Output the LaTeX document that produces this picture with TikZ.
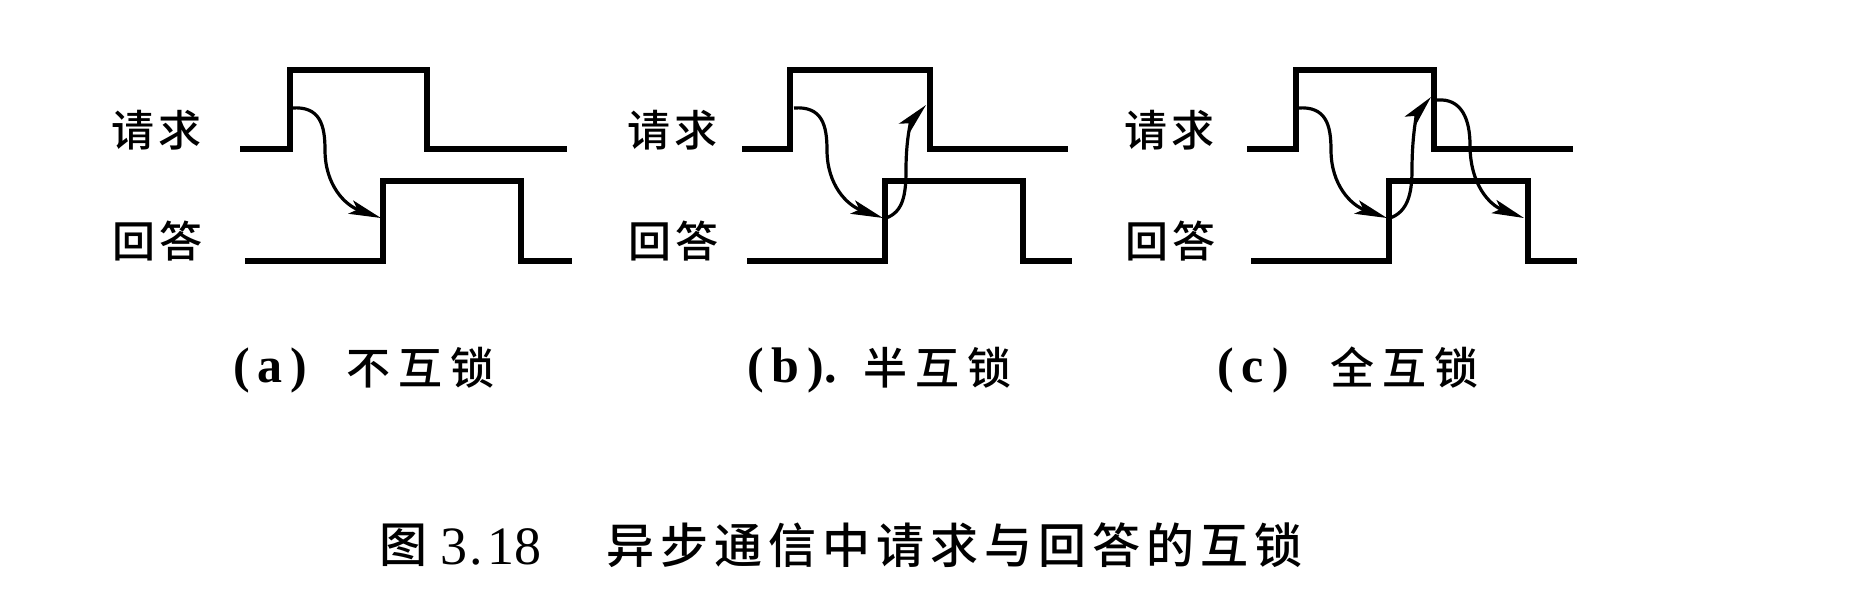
\documentclass[tikz,border=0pt]{standalone}
\usepackage{fontspec}
\setmainfont{Liberation Serif}
\newfontfamily\cjk{Noto Sans CJK SC Medium}
\usetikzlibrary{arrows.meta}
\begin{document}
\begin{tikzpicture}[x=1pt,y=-1pt,
  sig/.style={line width=5.5pt, line join=miter},
  arr/.style={line width=3.2pt, -{Stealth[length=32pt,width=14pt,inset=7pt]}},
  lab/.style={font=\cjk\fontsize{43pt}{43pt}\selectfont, inner sep=0pt},
  subcap/.style={font=\cjk\fontsize{44pt}{44pt}\selectfont, inner sep=0pt, anchor=west},
  subletter/.style={font=\bfseries\fontsize{50pt}{50pt}\selectfont, inner sep=0pt, anchor=west},
  figcap/.style={font=\cjk\fontsize{48pt}{48pt}\selectfont, inner sep=0pt, anchor=west},
  fignum/.style={font=\fontsize{54pt}{54pt}\selectfont, inner sep=0pt, anchor=west}]
\useasboundingbox (0,0) rectangle (1852,614);

% ---------- panel (a)
\node[lab] (reqa) at (156,130) {请\kern4pt求};
\node[lab] (repa) at (157,241) {回\kern4pt答};
\draw[sig] (240,149) -- (290,149) -- (290,70) -- (427,70) -- (427,149) -- (567,149);
\draw[sig] (245,261) -- (383,261) -- (383,181) -- (521,181) -- (521,261) -- (572,261);
\coordinate (a1s) at (292,108);
\coordinate (a1e) at (381,218);
\draw[arr] (a1s) .. controls (320,106) and (325,125) .. (325,150)
                 .. controls (325,185) and (345,205) .. (a1e);

% ---------- panel (b)
\node[lab] (reqb) at (672,130) {请\kern4pt求};
\node[lab] (repb) at (673,241) {回\kern4pt答};
\draw[sig] (742,149) -- (790,149) -- (790,70) -- (930,70) -- (930,149) -- (1068,149);
\draw[sig] (747,261) -- (885,261) -- (885,181) -- (1023,181) -- (1023,261) -- (1072,261);
\coordinate (b1s) at (794,108);
\coordinate (b1e) at (883,218);
\coordinate (b2s) at (886,218);
\coordinate (b2e) at (926,105);
\draw[arr] (b1s) .. controls (822,106) and (827,125) .. (827,150)
                 .. controls (827,185) and (847,205) .. (b1e);
\draw[arr] (b2s) .. controls (903,212) and (906,195) .. (906,170)
                 .. controls (906,135) and (912,120) .. (b2e);

% ---------- panel (c)
\node[lab] (reqc) at (1169,130) {请\kern4pt求};
\node[lab] (repc) at (1170,241) {回\kern4pt答};
\draw[sig] (1247,149) -- (1296,149) -- (1296,70) -- (1434,70) -- (1434,149) -- (1573,149);
\draw[sig] (1251,261) -- (1389,261) -- (1389,181) -- (1528,181) -- (1528,261) -- (1577,261);
\coordinate (c1s) at (1298,108);
\coordinate (c1e) at (1387,218);
\coordinate (c2s) at (1390,218);
\coordinate (c2e) at (1431,97);
\coordinate (c3s) at (1437,100);
\coordinate (c3e) at (1524,218);
\draw[arr] (c1s) .. controls (1326,106) and (1331,125) .. (1331,150)
                 .. controls (1331,185) and (1351,205) .. (c1e);
\draw[arr] (c2s) .. controls (1407,212) and (1412,195) .. (1412,170)
                 .. controls (1412,130) and (1418,112) .. (c2e);
\draw[arr] (c3s) .. controls (1462,98) and (1470,120) .. (1470,145)
                 .. controls (1470,185) and (1490,205) .. (c3e);

% ---------- sub captions
\node[subletter] (capa1) at (233,370) {(\kern8pt a\kern8pt)};
\node[subcap] (capa2) at (346,368) {不\kern8pt互\kern8pt锁};
\node[subletter] (capb1) at (747,370) {(\kern8pt b\kern8pt).};
\node[subcap] (capb2) at (863,368) {半\kern8pt互\kern8pt锁};
\node[subletter] (capc1) at (1217,370) {(\kern8pt c\kern8pt)};
\node[subcap] (capc2) at (1330,368) {全\kern8pt互\kern8pt锁};

% ---------- figure caption
\node[figcap] (fig1) at (379,545) {图};
\node[fignum] (fig2) at (440,547) {3\kern2pt.\kern5pt18};
\node[figcap] (fig3) at (606,545) {异\kern6pt步\kern6pt通\kern6pt信\kern6pt中\kern6pt请\kern6pt求\kern6pt与\kern6pt回\kern6pt答\kern6pt的\kern6pt互\kern6pt锁};
\end{tikzpicture}
\end{document}
